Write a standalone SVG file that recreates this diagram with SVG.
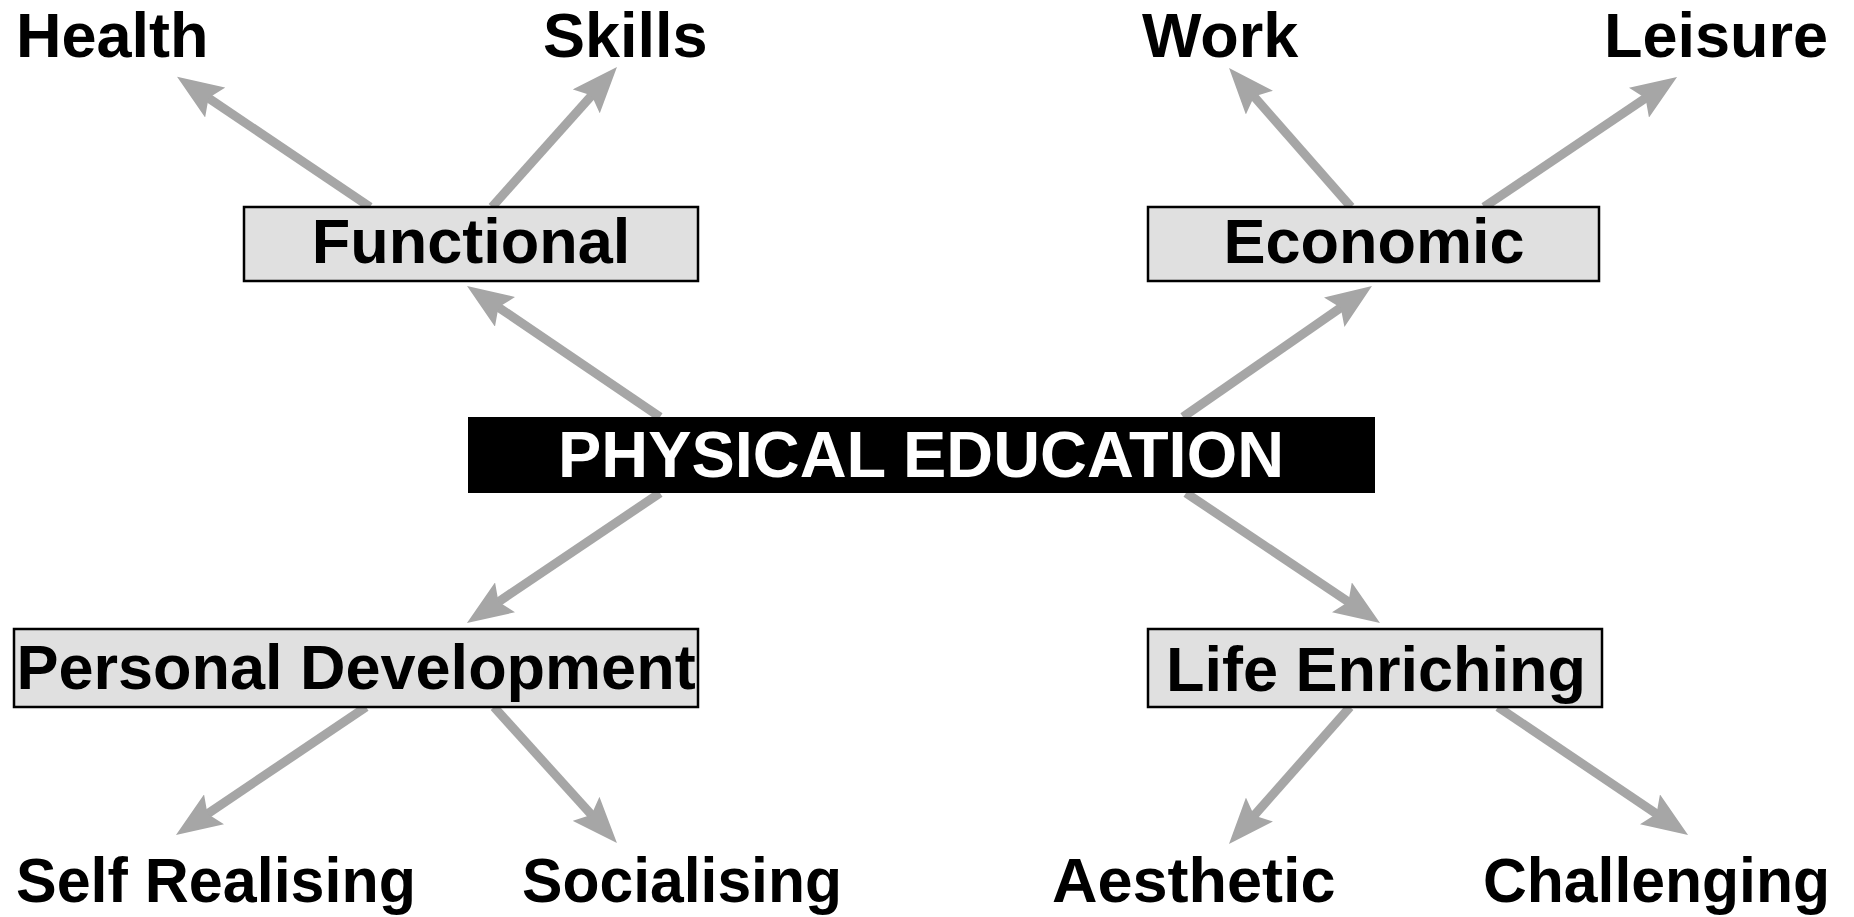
<svg xmlns="http://www.w3.org/2000/svg" width="1854" height="917" viewBox="0 0 1854 917">
<style>
text{font-family:"Liberation Sans",Arial,sans-serif;font-weight:bold;font-size:63px;fill:#000;text-anchor:middle}
.lbl{text-anchor:start}
.box{fill:#e0e0e0;stroke:#000;stroke-width:2.5}
.conn line{stroke:#a6a6a6;stroke-width:9;fill:none;marker-end:url(#ah)}
</style>
<defs>
<marker id="ah" markerUnits="userSpaceOnUse" markerWidth="46" markerHeight="36" refX="10" refY="18" orient="auto" viewBox="0 0 46 36">
<path d="M0,0 L46,18 L0,36 L8,18 z" fill="#a6a6a6"/>
</marker>
</defs>
<rect width="1854" height="917" fill="#fff"/>
<g id="connectors" class="conn">
<line x1="660" y1="417" x2="496.8" y2="306.2"/>
<line x1="1183" y1="417" x2="1342.4" y2="306.5"/>
<line x1="660" y1="493" x2="496.8" y2="602.9"/>
<line x1="1186" y1="493" x2="1350.1" y2="602.9"/>
<line x1="370" y1="207" x2="206.9" y2="97"/>
<line x1="492" y1="207" x2="593" y2="93.9"/>
<line x1="1351" y1="207" x2="1252.8" y2="95.1"/>
<line x1="1484" y1="207" x2="1647.2" y2="97.1"/>
<line x1="366" y1="707" x2="205.8" y2="814.9"/>
<line x1="494" y1="707" x2="592.8" y2="816.3"/>
<line x1="1350" y1="707" x2="1252.8" y2="817"/>
<line x1="1498" y1="707" x2="1658.2" y2="814.9"/>
</g>
<g id="physical-education">
<rect x="468" y="417" width="907" height="76" fill="#000"/>
<text x="921" y="477" textLength="726" lengthAdjust="spacingAndGlyphs" style="fill:#fff;font-size:64px">PHYSICAL EDUCATION</text>
</g>
<g id="functional">
<rect class="box" x="244" y="207" width="454" height="74"/>
<text x="471" y="263">Functional</text>
</g>
<g id="economic">
<rect class="box" x="1148" y="207" width="451" height="74"/>
<text x="1374" y="263">Economic</text>
</g>
<g id="personal-development">
<rect class="box" x="14" y="629" width="684" height="78"/>
<text x="356" y="689">Personal Development</text>
</g>
<g id="life-enriching">
<rect class="box" x="1148" y="629" width="454" height="78"/>
<text x="1376" y="691">Life Enriching</text>
</g>
<g id="health"><text class="lbl" x="16" y="57">Health</text></g>
<g id="skills"><text class="lbl" x="543" y="57">Skills</text></g>
<g id="work"><text class="lbl" x="1142" y="57">Work</text></g>
<g id="leisure"><text class="lbl" x="1604" y="57">Leisure</text></g>
<g id="self-realising"><text class="lbl" x="16" y="902" textLength="400" lengthAdjust="spacingAndGlyphs">Self Realising</text></g>
<g id="socialising"><text class="lbl" x="522" y="902" textLength="320" lengthAdjust="spacingAndGlyphs">Socialising</text></g>
<g id="aesthetic"><text class="lbl" x="1052" y="902">Aesthetic</text></g>
<g id="challenging"><text class="lbl" x="1483" y="902" textLength="347" lengthAdjust="spacingAndGlyphs">Challenging</text></g>
</svg>
